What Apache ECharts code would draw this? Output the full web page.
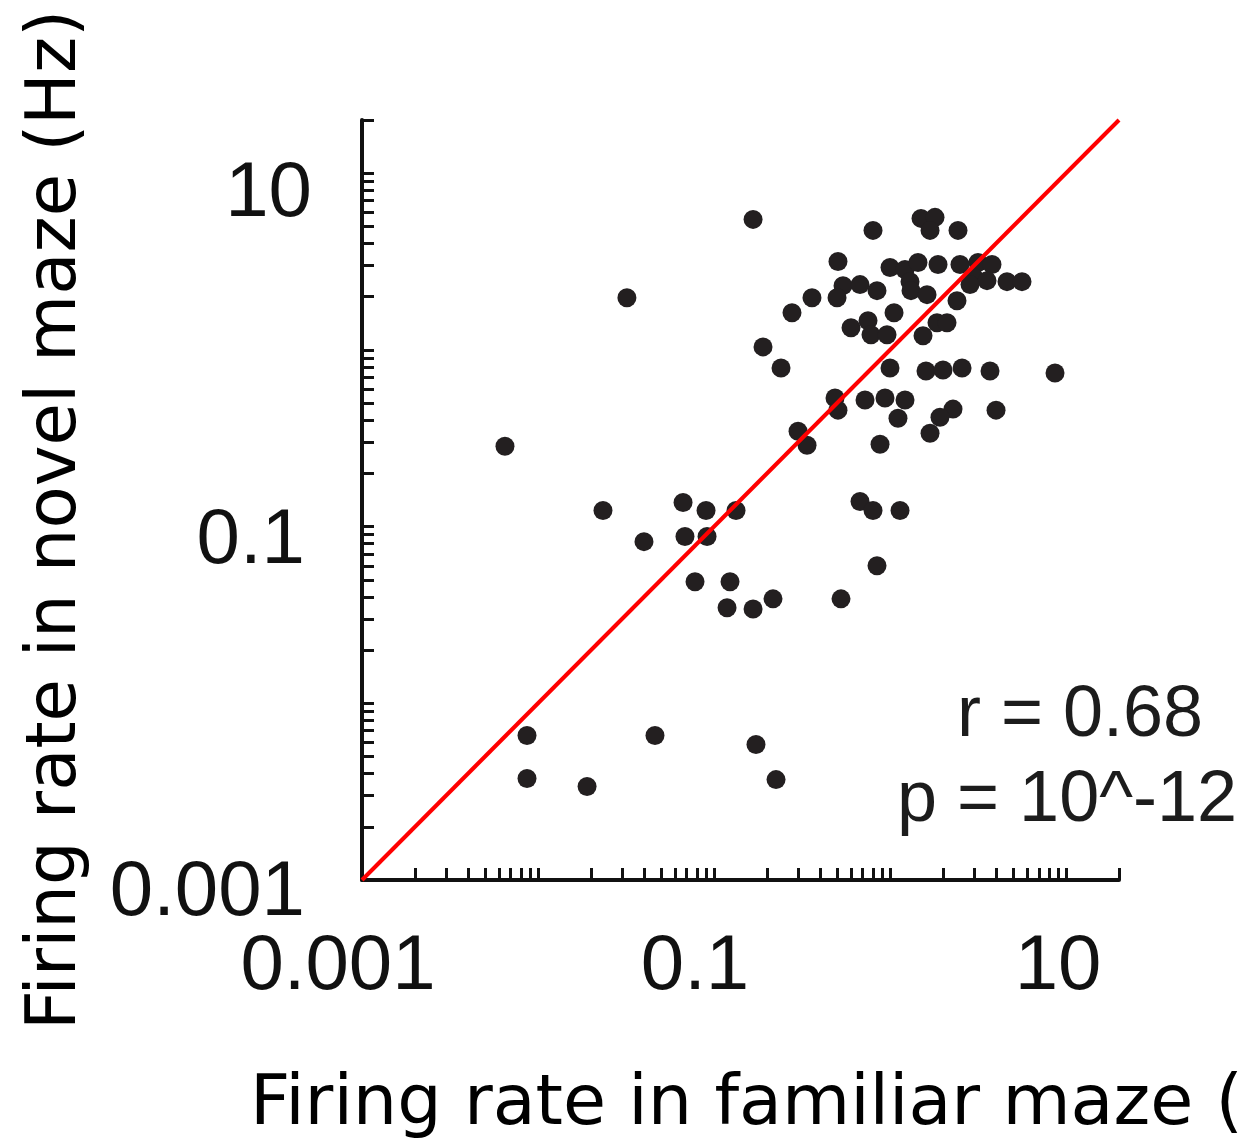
<!DOCTYPE html>
<html>
<head>
<meta charset="utf-8">
<script src="https://cdn.jsdelivr.net/npm/echarts@6/dist/echarts.min.js"></script>
<style>
  html, body { margin: 0; padding: 0; background: #ffffff; }
  #chart { width: 1247px; height: 1148px; }
</style>
</head>
<body>
<div id="chart"></div>
<script>
// Per-cell firing rates (Hz): familiar maze (x) vs novel maze (y)
const familiarRate = [
  0.1667, 0.0320, 0.00649, 0.0234, 0.0400, 0.0667, 0.0901, 0.1334, 0.0684, 0.0913,
  0.0780, 0.1233, 0.1186, 0.1667, 0.2164, 0.6753, 0.8006, 1.140, 0.8435, 0.5266,
  0.00866, 0.00866, 0.0190, 0.0462, 0.1732, 0.2251, 0.1899, 0.2403,
  0.8006, 1.500, 1.802, 1.688, 2.434, 0.5063, 1.000, 1.217, 1.442, 1.874,
  2.498, 3.162, 3.797, 1.299, 1.316, 1.623, 3.001, 3.557, 4.621, 5.623,
  0.5408, 0.6753, 0.8435, 0.5000, 0.3603, 0.2774, 2.402, 2.848, 1.054, 0.6004,
  0.7499, 0.7798, 0.9616, 1.540, 1.849, 2.108, 1.000, 1.601, 2.000, 2.566,
  3.700, 8.660, 0.4870, 0.5063, 0.7211, 0.9367, 1.217, 1.110, 2.280, 1.923,
  1.688, 4.003, 0.8775, 0.3002, 0.3377
];
const novelRate = [
  5.478, 1.975, 0.2848, 0.1233, 0.0822, 0.1369, 0.1233, 0.1233, 0.0878, 0.0878,
  0.0487, 0.0487, 0.0347, 0.0342, 0.0390, 0.1387, 0.1233, 0.1233, 0.0600, 0.0390,
  0.00658, 0.00375, 0.00338, 0.00658, 0.00585, 0.00370, 1.040, 0.790,
  4.745, 5.550, 5.623, 4.745, 4.745, 3.162, 2.923, 2.848, 3.121, 3.041,
  3.041, 3.121, 3.041, 2.434, 2.164, 2.054, 2.566, 2.466, 2.434, 2.434,
  2.310, 2.341, 2.164, 1.975, 1.975, 1.623, 1.899, 2.341, 1.623, 1.334,
  1.461, 1.217, 1.217, 1.201, 1.423, 1.423, 0.790, 0.760, 0.770, 0.790,
  0.760, 0.740, 0.5337, 0.4561, 0.5200, 0.5337, 0.5200, 0.4108, 0.4622, 0.4162,
  0.3377, 0.4561, 0.2923, 0.3465, 0.2885
];

// Axis range and labelled ticks (both axes share them)
const axisMin = 0.001;
const axisMax = 20;
const tickLabelValues = [0.001, 0.1, 10];
const tickLabelTexts = ['0.001', '0.1', '10'];

// Unity line y = x across the full range
const unityLine = [[0.001, 0.001], [20, 20]];

const statLines = ['r = 0.68', 'p = 10^-12'];
const xTitle = 'Firing rate in familiar maze (Hz)';
const yTitle = 'Firing rate in novel maze (Hz)';

// Logarithmic tick marks: 1..9 times each power of ten inside the range
const tickValues = [];
for (let e = -3; e <= 1; e++) {
  for (let m = 1; m <= 9; m++) {
    const v = +(m * Math.pow(10, e)).toPrecision(3);
    if (v > axisMin && v <= axisMax) tickValues.push(v);
  }
}

const points = familiarRate.map((x, i) => [x, novelRate[i]]);

function labelIndex(val) {
  return tickLabelValues.findIndex(t => Math.abs(Math.log10(t) - Math.log10(val)) < 1e-6);
}

const labelFont = { fontFamily: '"Liberation Sans", Arial, sans-serif', fontSize: 78, color: '#111111' };
const titleFont = '"DejaVu Sans", sans-serif';
const axisColor = '#111111';

const chart = echarts.init(document.getElementById('chart'), null, { renderer: 'canvas' });

chart.setOption({
  animation: false,
  backgroundColor: '#ffffff',
  grid: { left: 362, top: 120, right: 128, bottom: 268, containLabel: false },
  xAxis: {
    type: 'log',
    logBase: 10,
    min: axisMin,
    max: axisMax,
    splitLine: { show: false },
    axisLine: { show: true, onZero: false, lineStyle: { color: axisColor, width: 4 } },
    axisTick: { show: true, inside: true, length: 12, customValues: tickValues,
      lineStyle: { color: axisColor, width: 3 } },
    axisLabel: {
      show: true,
      margin: 48,
      customValues: tickLabelValues,
      formatter: (val) => {
        const i = labelIndex(val);
        return i >= 0 ? '{x' + i + '|' + tickLabelTexts[i] + '}' : '';
      },
      rich: {
        x0: Object.assign({ padding: [0, 48, 0, 0] }, labelFont),
        x1: Object.assign({ padding: [0, 38, 0, 0] }, labelFont),
        x2: Object.assign({ padding: [0, 16, 0, 0] }, labelFont)
      }
    }
  },
  yAxis: {
    type: 'log',
    logBase: 10,
    min: axisMin,
    max: axisMax,
    splitLine: { show: false },
    axisLine: { show: true, onZero: false, lineStyle: { color: axisColor, width: 4 } },
    axisTick: { show: true, inside: true, length: 12, customValues: tickValues,
      lineStyle: { color: axisColor, width: 3 } },
    axisLabel: {
      show: true,
      margin: 50,
      customValues: tickLabelValues,
      formatter: (val) => {
        const i = labelIndex(val);
        return i >= 0 ? '{y' + i + '|' + tickLabelTexts[i] + '}' : '';
      },
      rich: {
        y0: Object.assign({ padding: [26, 7, 0, 0] }, labelFont),
        y1: Object.assign({ padding: [30, 7, 0, 0] }, labelFont),
        y2: Object.assign({ padding: [42, 0, 0, 0] }, labelFont)
      }
    }
  },
  series: [
    {
      type: 'scatter',
      data: points,
      symbol: 'circle',
      symbolSize: 19,
      itemStyle: { color: '#231f20', opacity: 1 },
      z: 2,
      silent: true
    },
    {
      type: 'line',
      data: unityLine,
      symbol: 'none',
      lineStyle: { color: '#ff0000', width: 4 },
      z: 3,
      silent: true
    }
  ],
  graphic: [
    {
      type: 'text', left: 957, top: 680,
      style: { text: statLines[0], font: '72px "Liberation Sans", Arial, sans-serif', fill: '#1c1c1c' }
    },
    {
      type: 'text', left: 897, top: 765,
      style: { text: statLines[1], font: '72px "Liberation Sans", Arial, sans-serif', fill: '#1c1c1c' }
    },
    {
      type: 'text', x: 250, y: 1106,
      style: { text: xTitle, font: '70px ' + titleFont, fill: '#000000', textAlign: 'left', textVerticalAlign: 'middle' }
    },
    {
      type: 'text', x: 57, y: 520, rotation: Math.PI / 2,
      style: { text: yTitle, font: '69px ' + titleFont, fill: '#000000', textAlign: 'center', textVerticalAlign: 'middle' }
    }
  ]
});
</script>
</body>
</html>
